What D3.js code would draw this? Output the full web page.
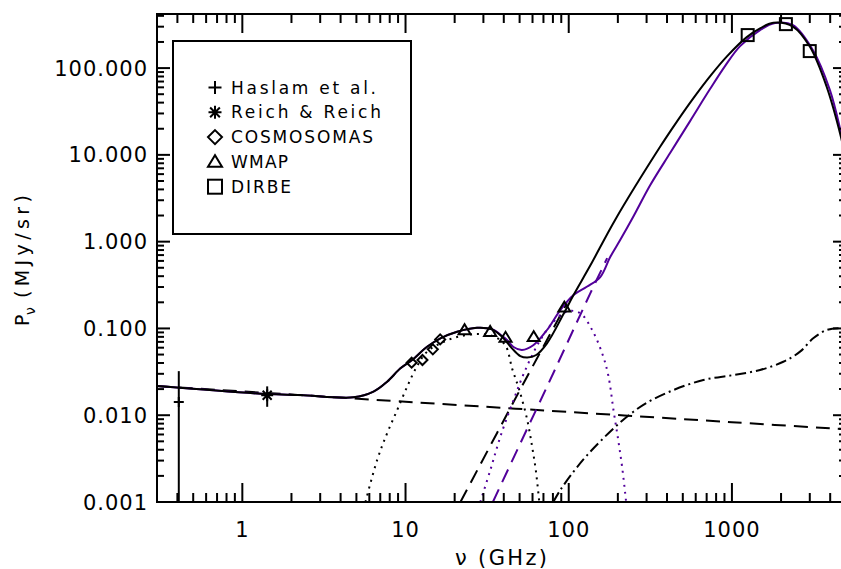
<!DOCTYPE html>
<html><head><meta charset="utf-8">
<script src="https://cdn.jsdelivr.net/npm/d3@7"></script>
<style>
body{margin:0;background:#fff}
svg{display:block}
text{font-family:"DejaVu Sans",sans-serif;fill:#000}
</style>
</head><body>
<svg id="chart" width="841" height="569"></svg>
<script>
// ---------- data ----------
const xMajorTicks = [1, 10, 100, 1000];
const xTickLabels = ["1", "10", "100", "1000"];
const yMajorTicks = [0.001, 0.01, 0.1, 1, 10, 100];
const yTickLabels = ["0.001", "0.010", "0.100", "1.000", "10.000", "100.000"];

// measured points
const haslamFreq = [0.408];
const haslamVal = [0.0142];
const haslamErr = [0.018];
const reichFreq = [1.42];
const reichVal = [0.0170];
const reichErr = [0.0045];
const cosmoFreq = [10.9, 12.7, 14.7, 16.3];
const cosmoVal = [0.0403, 0.0433, 0.0574, 0.0748];
const wmapFreq = [23, 33, 41, 61, 94];
const wmapVal = [0.096, 0.0916, 0.0786, 0.080, 0.175];
const dirbeFreq = [1249, 2141, 2998];
const dirbeVal = [240, 321, 157];

// model curves
const synchFreq = [0.3, 10, 100, 1000, 5000];
const synchVal = [0.0217, 0.0143, 0.0109, 0.0083, 0.00687];

const totalFreq = [0.3, 1.42, 2.27, 4.8, 6.36, 7.71, 9.31, 10.97, 13.55, 16.36, 20.7, 27.4, 33.9, 39.0, 44.9, 50.5, 55.7, 63.2, 73.6, 92.9, 107, 135.5, 192, 363, 460, 581, 744, 929, 1233, 1487, 1792, 2374, 3006, 3805, 4652, 5000];
const totalVal = [0.0217, 0.01754, 0.0171, 0.01607, 0.01866, 0.02432, 0.03467, 0.04325, 0.0615, 0.0769, 0.0916, 0.1019, 0.0977, 0.0802, 0.0590, 0.0481, 0.0462, 0.0494, 0.0673, 0.1466, 0.2427, 0.53, 1.77, 12.4, 24.2, 45.1, 83.0, 135.7, 227.5, 286.4, 332.7, 299.2, 175.8, 61.0, 16.2, 8.7];

const total2Freq = [0.3, 1.42, 2.27, 4.8, 6.36, 7.71, 9.31, 10.97, 13.55, 16.36, 20.7, 27.4, 33.9, 39.0, 41.9, 45.9, 51.7, 60.9, 73.6, 88.8, 107, 129, 156, 179.5, 206.6, 248, 316, 418, 554, 734, 907, 1122, 1487, 1837, 2366, 3136, 3985, 4652, 5000];
const total2Val = [0.0217, 0.01754, 0.0171, 0.01607, 0.01866, 0.02432, 0.03467, 0.04325, 0.0615, 0.0769, 0.0916, 0.1019, 0.0977, 0.082, 0.0735, 0.0611, 0.0564, 0.0644, 0.0959, 0.163, 0.2427, 0.302, 0.391, 0.665, 1.042, 1.92, 4.49, 10.5, 24.5, 57.3, 105.5, 179, 274, 329.6, 312.6, 161, 55.8, 18.3, 10.0];

const spinFreq = [5.68, 6.70, 7.71, 8.89, 10.23, 11.78, 13.55, 16.36, 20.7, 27.4, 34.7, 40.8, 45.1, 49.8, 55.7, 59.7, 62.8, 66.0];
const spinVal = [0.001, 0.00305, 0.00618, 0.01148, 0.0213, 0.0369, 0.0540, 0.0673, 0.0796, 0.0861, 0.0807, 0.0644, 0.0340, 0.0195, 0.00881, 0.00431, 0.00234, 0.001];

const dustFreq = [21.7, 54.2, 97.5];
const dustVal = [0.001, 0.02547, 0.1945];

const dust2Freq = [34.3, 50.5, 73.6, 102, 135.5, 172];
const dust2Val = [0.001, 0.00474, 0.0213, 0.0802, 0.2535, 0.647];

const spin2Freq = [28.7, 33.1, 38.1, 45.9, 54.2, 66.9, 82.6, 99.3, 117.6, 139.2, 160, 174.6, 188, 201, 212.4, 224.8];
const spin2Val = [0.001, 0.00234, 0.00565, 0.01496, 0.0332, 0.0735, 0.125, 0.158, 0.150, 0.0959, 0.0521, 0.0290, 0.01148, 0.00518, 0.00253, 0.001];

const dashdotFreq = [80.4, 88.8, 107, 129, 163, 207, 249, 301, 438, 668, 1020, 1487, 2064, 2614, 3148, 3805, 4592, 5000];
const dashdotVal = [0.001, 0.001374, 0.002234, 0.00343, 0.00543, 0.00828, 0.01096, 0.01396, 0.0195, 0.02547, 0.02904, 0.0332, 0.0413, 0.0540, 0.0769, 0.0959, 0.1002, 0.0984];

const legendLabels = ["Haslam et al.", "Reich & Reich", "COSMOSOMAS", "WMAP", "DIRBE"];
const legendSymbols = ["plus", "asterisk", "diamond", "triangle", "square"];

// ---------- layout ----------
const PURPLE = "#52009a";
const L = 157, R = 846, T = 14, B = 502;
const svg = d3.select("#chart");
const x = d3.scaleLog().domain([0.3, 5000]).range([L, R]);
const y = d3.scaleLog().domain([0.001, 420]).range([B, T]);

svg.append("defs").append("clipPath").attr("id", "plotclip")
  .append("rect").attr("x", L).attr("y", T).attr("width", R - L).attr("height", B - T);

const zip = (a, b) => a.map((v, i) => [v, b[i]]);
const line = d3.line().x(d => x(d[0])).y(d => y(d[1])).curve(d3.curveCatmullRom.alpha(0.5));
const plot = svg.append("g").attr("clip-path", "url(#plotclip)");

function curve(f, v, color, dash) {
  plot.append("path").datum(zip(f, v)).attr("d", line)
    .attr("fill", "none").attr("stroke", color).attr("stroke-width", 2)
    .attr("stroke-dasharray", dash || null).attr("stroke-linejoin", "round");
}
curve(synchFreq, synchVal, "#000", "14,8");
curve(spinFreq, spinVal, "#000", "2,5");
curve(dustFreq, dustVal, "#000", "14,8");
curve(dust2Freq, dust2Val, PURPLE, "14,8");
curve(spin2Freq, spin2Val, PURPLE, "2,5");
curve(dashdotFreq, dashdotVal, "#000", "11,4,2,4");
curve(total2Freq, total2Val, PURPLE, null);
curve(totalFreq, totalVal, "#000", null);

// ---------- symbols ----------
function sym(g, type, cx, cy, s) {
  const st = el => el.attr("fill", "none").attr("stroke", "#000").attr("stroke-width", 2);
  const h = s / 2;
  if (type === "plus") {
    st(g.append("path").attr("d", `M${cx - h},${cy}H${cx + h}M${cx},${cy - h}V${cy + h}`));
  } else if (type === "asterisk") {
    const d = h * 0.75;
    st(g.append("path").attr("d",
      `M${cx - h},${cy}H${cx + h}M${cx},${cy - h}V${cy + h}M${cx - d},${cy - d}L${cx + d},${cy + d}M${cx - d},${cy + d}L${cx + d},${cy - d}`));
  } else if (type === "diamond") {
    st(g.append("path").attr("d", `M${cx},${cy - h}L${cx + h},${cy}L${cx},${cy + h}L${cx - h},${cy}Z`));
  } else if (type === "triangle") {
    st(g.append("path").attr("d", `M${cx - h},${cy + h * 0.7}L${cx + h},${cy + h * 0.7}L${cx},${cy - h * 0.95}Z`));
  } else if (type === "square") {
    st(g.append("rect").attr("x", cx - h).attr("y", cy - h).attr("width", s).attr("height", s));
  }
}
const pts = svg.append("g");
function errbar(f, v, e) {
  const top = y(v + e);
  const bot = (v - e) > 0 ? y(v - e) : B;
  pts.append("line").attr("x1", x(f)).attr("x2", x(f)).attr("y1", top).attr("y2", bot)
    .attr("stroke", "#000").attr("stroke-width", 2);
}
haslamFreq.forEach((f, i) => { errbar(f, haslamVal[i], haslamErr[i]); sym(pts, "plus", x(f), y(haslamVal[i]), 10); });
reichFreq.forEach((f, i) => { errbar(f, reichVal[i], reichErr[i]); sym(pts, "asterisk", x(f), y(reichVal[i]), 12); });
cosmoFreq.forEach((f, i) => sym(pts, "diamond", x(f), y(cosmoVal[i]), 10));
wmapFreq.forEach((f, i) => sym(pts, "triangle", x(f), y(wmapVal[i]), 12));
dirbeFreq.forEach((f, i) => sym(pts, "square", x(f), y(dirbeVal[i]), 12));

// ---------- axes ----------
const ax = svg.append("g").attr("stroke", "#000").attr("stroke-width", 2);
ax.append("rect").attr("x", L).attr("y", T).attr("width", R - L).attr("height", B - T).attr("fill", "none");

const xMinor = [], yMinor = [];
[-1, 0, 1, 2, 3].forEach(d => { for (let k = 2; k <= 9; k++) { const v = k * Math.pow(10, d); if (v >= 0.3 && v <= 5000) xMinor.push(v); } });
[-3, -2, -1, 0, 1, 2].forEach(d => { for (let k = 2; k <= 9; k++) { const v = k * Math.pow(10, d); if (v <= 420) yMinor.push(v); } });

function xt(v, len) {
  ax.append("line").attr("x1", x(v)).attr("x2", x(v)).attr("y1", B).attr("y2", B - len);
  ax.append("line").attr("x1", x(v)).attr("x2", x(v)).attr("y1", T).attr("y2", T + len);
}
function yt(v, len) {
  ax.append("line").attr("y1", y(v)).attr("y2", y(v)).attr("x1", L).attr("x2", L + len);
  ax.append("line").attr("y1", y(v)).attr("y2", y(v)).attr("x1", R).attr("x2", R - len);
}
xMajorTicks.forEach(v => xt(v, 19));
xMinor.forEach(v => xt(v, 9));
yMajorTicks.forEach(v => yt(v, 13));
yMinor.forEach(v => yt(v, 7));

const lab = svg.append("g").attr("font-size", 21);
xMajorTicks.forEach((v, i) => lab.append("text").attr("x", x(v)).attr("y", 537)
  .attr("text-anchor", "middle").style("letter-spacing", "1px").text(xTickLabels[i]));
yMajorTicks.forEach((v, i) => lab.append("text").attr("x", 148).attr("y", y(v) + 7.5)
  .attr("text-anchor", "end").style("letter-spacing", "1px").text(yTickLabels[i]));

// axis titles
svg.append("text").attr("x", 455).attr("y", 565).attr("font-size", 21)
  .attr("textLength", 92).attr("lengthAdjust", "spacing").text("\u03BD (GHz)");
svg.append("text").attr("transform", "translate(28.5,326) rotate(-90)").attr("font-size", 19).text("P");
svg.append("text").attr("transform", "translate(35,315) rotate(-90)").attr("font-size", 14).text("\u03BD");
svg.append("text").attr("transform", "translate(28.5,298) rotate(-90)").attr("font-size", 19)
  .attr("textLength", 103).attr("lengthAdjust", "spacing").text("(MJy/sr)");

// ---------- legend ----------
const lg = svg.append("g");
lg.append("rect").attr("x", 173).attr("y", 41).attr("width", 238).attr("height", 193)
  .attr("fill", "#fff").attr("stroke", "#000").attr("stroke-width", 2);
const legendWidths = [145, 150, 142, 57, 60];
legendLabels.forEach((t, i) => {
  const by = 93.5 + i * 24.8;
  sym(lg, legendSymbols[i], 215, by - 6, legendSymbols[i] === "plus" || legendSymbols[i] === "asterisk" ? 13 : 14);
  lg.append("text").attr("x", 231).attr("y", by).attr("font-size", 17)
    .attr("textLength", legendWidths[i]).attr("lengthAdjust", "spacing").text(t);
});
</script>
</body></html>
